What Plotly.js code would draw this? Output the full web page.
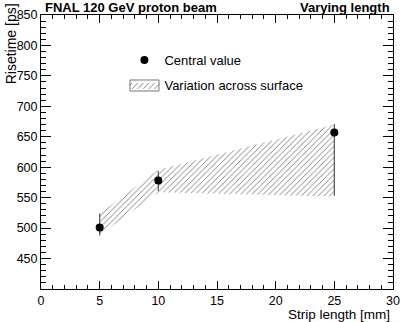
<!DOCTYPE html>
<html>
<head>
<meta charset="utf-8">
<script src="https://cdn.plot.ly/plotly-3.0.1.min.js"></script>
<style>
  html, body { margin: 0; padding: 0; background: #ffffff; }
  #chart { width: 415px; height: 322px; }
</style>
</head>
<body>
<div id="chart"></div>
<script>
  // strip length [mm] and measured risetime [ps]
  const stripLength = [5, 10, 25];
  const risetime = [501, 578, 657];
  const errUp = [23, 16, 14];
  const errDown = [13, 17, 104];
  // variation across surface (band edges)
  const bandUpper = [524, 596, 670];
  const bandLower = [488, 559, 552];
  const yTickVals = [450, 500, 550, 600, 650, 700, 750, 800, 850];

  const FONT = 'Liberation Sans, Arial, Helvetica, sans-serif';

  const bandX = stripLength.concat(stripLength.slice().reverse());
  const bandY = bandUpper.concat(bandLower.slice().reverse());

  const band = {
    x: bandX, y: bandY, type: 'scatter', mode: 'lines', fill: 'toself',
    name: 'Variation across surface', legendgroup: 'b', legendrank: 2,
    fillcolor: 'rgba(255,255,255,0)',
    fillpattern: { shape: '/', fgcolor: '#777777', bgcolor: 'rgba(255,255,255,0)', size: 4, solidity: 0.22 },
    line: { width: 0, color: '#777777' },
    hoverinfo: 'skip'
  };

  const points = {
    x: stripLength, y: risetime, type: 'scatter', mode: 'markers',
    name: 'Central value', legendgroup: 'a', legendrank: 1,
    marker: { color: '#000000', size: 8 },
    error_y: { type: 'data', symmetric: false, array: errUp, arrayminus: errDown, color: '#555555', thickness: 1.2, width: 0 }
  };

  const axisBase = {
    showline: true, linecolor: '#000000', linewidth: 1, mirror: 'ticks',
    showgrid: false, zeroline: false, ticks: 'inside', tickcolor: '#000000',
    tickfont: { family: FONT, size: 12.5, color: '#000000' }
  };

  const layout = {
    width: 415, height: 322,
    margin: { l: 41, r: 22, t: 15, b: 33 },
    paper_bgcolor: '#ffffff', plot_bgcolor: '#ffffff',
    font: { family: FONT, size: 13, color: '#000000' },
    showlegend: true,
    legend: {
      x: 0.237, y: 0.89, xanchor: 'left', yanchor: 'top',
      bgcolor: 'rgba(0,0,0,0)', borderwidth: 0,
      font: { family: FONT, size: 13, color: '#000000' },
      traceorder: 'grouped', tracegroupgap: 5
    },
    xaxis: Object.assign({}, axisBase, {
      range: [0, 30], tickmode: 'linear', tick0: 0, dtick: 5, ticklen: 8,
      minor: { tickmode: 'linear', tick0: 0, dtick: 1, ticks: 'inside', ticklen: 4, tickcolor: '#000000' }
    }),
    yaxis: Object.assign({}, axisBase, {
      range: [400, 850], tickmode: 'array', tickvals: yTickVals, ticklen: 10,
      minor: { tickmode: 'linear', tick0: 400, dtick: 10, ticks: 'inside', ticklen: 5, tickcolor: '#000000' }
    }),
    // frame around the hatched legend symbol
    shapes: [
      { type: 'rect', xref: 'paper', yref: 'paper', x0: 0.2528, x1: 0.3352, y0: 0.7226, y1: 0.7628,
        line: { color: '#777777', width: 1 }, fillcolor: 'rgba(0,0,0,0)', layer: 'above' }
    ],
    annotations: [
      { text: '<b>FNAL 120 GeV proton beam</b>', xref: 'paper', yref: 'paper', x: 0.005, y: 1.026, xanchor: 'left', yanchor: 'middle', showarrow: false, font: { family: FONT, size: 13 } },
      { text: '<b>Varying length</b>', xref: 'paper', yref: 'paper', x: 0.997, y: 1.026, xanchor: 'right', yanchor: 'middle', showarrow: false, font: { family: FONT, size: 13 } },
      { text: 'Strip length [mm]', xref: 'paper', yref: 'paper', x: 0.997, y: -0.092, xanchor: 'right', yanchor: 'middle', showarrow: false, font: { family: FONT, size: 13.5 } },
      { text: 'Risetime [ps]', xref: 'paper', yref: 'paper', x: -0.115, y: 1.05, xanchor: 'left', yanchor: 'top', textangle: -90, showarrow: false, font: { family: FONT, size: 14 } }
    ]
  };

  Plotly.newPlot('chart', [band, points], layout, { displayModeBar: false, staticPlot: true });
</script>
</body>
</html>
